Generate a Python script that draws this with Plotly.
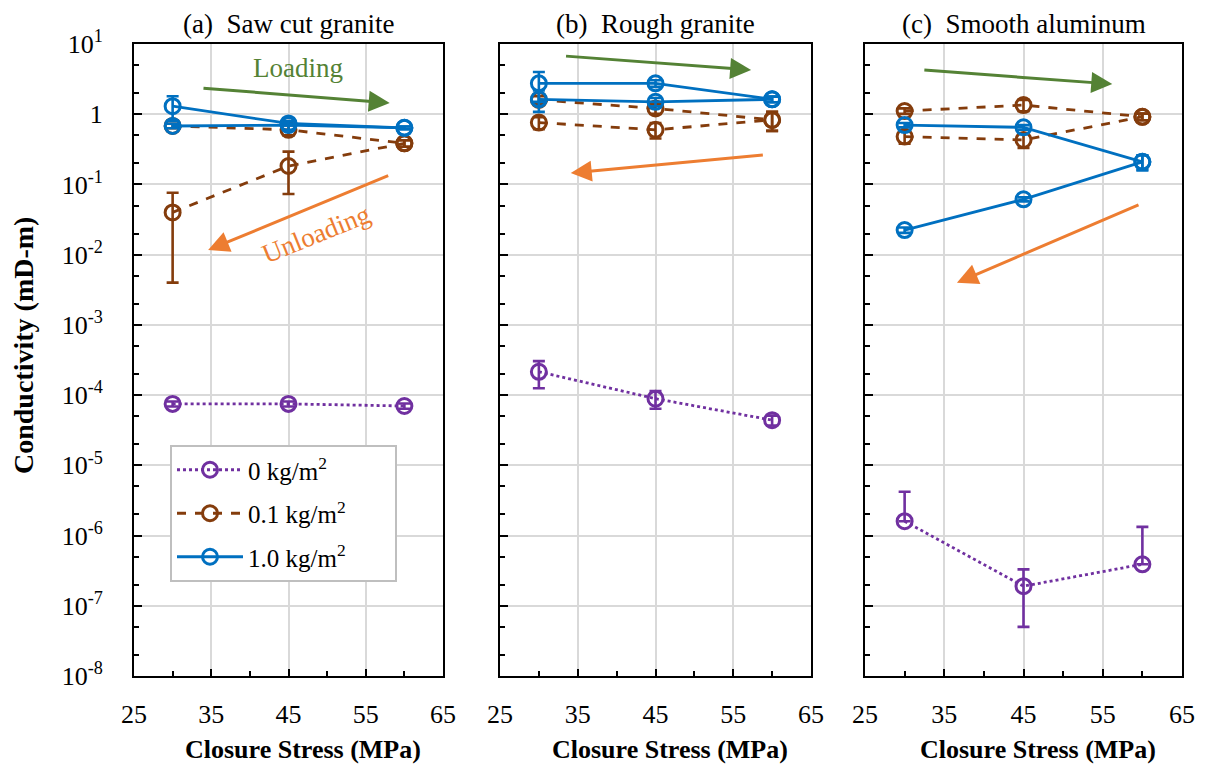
import plotly.graph_objects as go

# ---------------- data ----------------
stress = [30, 45, 60]

# panel (a) saw cut granite
a_p0 = [7.5e-5, 7.5e-5, 7.0e-5]
a_p0_err = [0.6e-5, 0.6e-5, 0.6e-5]
a_p01_load = [0.68, 0.60, 0.385]
a_p01_load_err = [0.05, 0.10, 0.04]
a_p01_unload = [0.040, 0.183, 0.385]
a_p01_unload_err = [0.036, 0.11, 0.04]
a_p10_load = [1.30, 0.74, 0.64]
a_p10_load_err = [0.50, 0.05, 0.03]
a_p10_unload = [0.68, 0.70, 0.64]
a_p10_unload_err = [0.05, 0.10, 0.03]

# panel (b) rough granite
b_p0 = [2.15e-4, 8.9e-5, 4.4e-5]
b_p0_err = [0.9e-4, 2.5e-5, 0.7e-5]
b_p01_load = [1.60, 1.21, 0.83]
b_p01_load_err = [0.20, 0.20, 0.25]
b_p01_unload = [0.76, 0.60, 0.83]
b_p01_unload_err = [0.15, 0.15, 0.25]
b_p10_load = [2.75, 2.75, 1.63]
b_p10_load_err = [1.25, 0.30, 0.15]
b_p10_unload = [1.63, 1.50, 1.63]
b_p10_unload_err = [0.55, 0.20, 0.15]

# panel (c) smooth aluminum
c_p0 = [1.6e-6, 1.9e-7, 3.9e-7]
c_p0_err_plus = [2.6e-6, 1.4e-7, 9.4e-7]
c_p0_err_minus = [0.0, 1.4e-7, 0.0]
c_p01_load = [1.11, 1.35, 0.92]
c_p01_load_err = [0.10, 0.25, 0.10]
c_p01_unload = [0.48, 0.43, 0.92]
c_p01_unload_err = [0.10, 0.10, 0.10]
c_p10_load = [0.70, 0.65, 0.21]
c_p10_load_err = [0.05, 0.05, 0.05]
c_p10_unload = [0.0224, 0.0614, 0.21]
c_p10_unload_err = [0.002, 0.004, 0.05]

panel_titles = ["(a)\u00a0\u00a0Saw cut granite", "(b)\u00a0\u00a0Rough granite", "(c)\u00a0\u00a0Smooth aluminum"]
legend_names = ["0 kg/m<sup>2</sup>", "0.1 kg/m<sup>2</sup>", "1.0 kg/m<sup>2</sup>"]
x_tickvals = [25, 35, 45, 55, 65]
y_tickvals = [10.0 ** k for k in range(1, -9, -1)]
y_ticktext = ["10<sup>1</sup>", "1"] + ["10<sup>-%d</sup>" % k for k in range(1, 9)]

# ---------------- style ----------------
PURPLE = "#7030A0"
BROWN = "#843C0C"
BLUE = "#0070C0"
GREEN = "#548235"
ORANGE = "#ED7D31"
FONT = "'Liberation Serif', 'Times New Roman', 'DejaVu Serif', serif"
PAD = "\u00a0" * 7  # visual padding so the legend box is as wide as the original

fig = go.Figure()


def add(series, err_p, err_m, color, dash, axis_idx, name=None, show=False, group=None):
    xs = "x" if axis_idx == 1 else "x%d" % axis_idx
    ys = "y" if axis_idx == 1 else "y%d" % axis_idx
    fig.add_trace(go.Scatter(
        x=stress, y=series, xaxis=xs, yaxis=ys, mode="lines+markers",
        name=(name + PAD) if name else None, showlegend=show, legendgroup=group,
        line=dict(color=color, width=2.8, dash=dash),
        marker=dict(symbol="circle-open", size=15, color=color, line=dict(width=3, color=color)),
        error_y=dict(type="data", array=err_p, arrayminus=err_m, symmetric=False,
                     color=color, thickness=2.6, width=6),
    ))


panels = [
    (1, a_p0, a_p0_err, a_p0_err,
     [(a_p01_load, a_p01_load_err), (a_p01_unload, a_p01_unload_err)],
     [(a_p10_load, a_p10_load_err), (a_p10_unload, a_p10_unload_err)]),
    (2, b_p0, b_p0_err, b_p0_err,
     [(b_p01_load, b_p01_load_err), (b_p01_unload, b_p01_unload_err)],
     [(b_p10_load, b_p10_load_err), (b_p10_unload, b_p10_unload_err)]),
    (3, c_p0, c_p0_err_plus, c_p0_err_minus,
     [(c_p01_load, c_p01_load_err), (c_p01_unload, c_p01_unload_err)],
     [(c_p10_load, c_p10_load_err), (c_p10_unload, c_p10_unload_err)]),
]

for idx, p0, p0e_p, p0e_m, brown, blue in panels:
    first = idx == 1
    add(p0, p0e_p, p0e_m, PURPLE, "dot", idx, legend_names[0], first, "g0")
    for k, (s, e) in enumerate(brown):
        add(s, e, e, BROWN, "dash", idx, legend_names[1], first and k == 0, "g1")
    for k, (s, e) in enumerate(blue):
        add(s, e, e, BLUE, "solid", idx, legend_names[2], first and k == 0, "g2")

# ---------------- layout ----------------
# page has an 8px body margin, so figure coords = screen coords - 8
W, H = 1194, 756
ML, MR, MT, MB = 126, 20, 36, 88
PW = W - ML - MR
PH = H - MT - MB
panel_px = [(126, 435), (492, 803), (857, 1174)]
domains = [[(l - ML) / PW, (r - ML) / PW] for l, r in panel_px]

axis_common_x = dict(
    range=[25, 65], tickvals=x_tickvals, ticks="inside", ticklen=7, tickwidth=1.5,
    tickcolor="black", showline=True, linecolor="black", linewidth=2, mirror=True,
    showgrid=True, gridcolor="#D9D9D9", gridwidth=2, automargin=False,
    minor=dict(dtick=5, ticks="inside", ticklen=5, tickcolor="black", showgrid=False),
    tickfont=dict(family=FONT, size=26, color="black"), zeroline=False,
    ticklabelstandoff=14,
)
axis_common_y = dict(
    type="log", range=[-8, 1], tickvals=y_tickvals, ticktext=y_ticktext,
    ticks="inside", ticklen=8, tickwidth=1.5, tickcolor="black",
    showline=True, linecolor="black", linewidth=2, mirror=True,
    showgrid=True, gridcolor="#D9D9D9", gridwidth=2, automargin=False,
    minor=dict(ticks="inside", ticklen=5, tickcolor="black", showgrid=False),
    tickfont=dict(family=FONT, size=26, color="black"), zeroline=False,
    ticklabelstandoff=24,
)

lay = dict(
    width=W, height=H, margin=dict(l=ML, r=MR, t=MT, b=MB, autoexpand=False),
    plot_bgcolor="white", paper_bgcolor="white",
    font=dict(family=FONT, size=24, color="black"),
    legend=dict(x=(162 - ML) / PW, y=1 - (437 - MT) / PH, xanchor="left", yanchor="top",
                bordercolor="#BFBFBF", borderwidth=2, bgcolor="white",
                font=dict(family=FONT, size=25, color="black"), tracegroupgap=8,
                itemwidth=66),
)
for i in range(3):
    xk = "xaxis" if i == 0 else "xaxis%d" % (i + 1)
    yk = "yaxis" if i == 0 else "yaxis%d" % (i + 1)
    xa = dict(axis_common_x)
    xa["domain"] = domains[i]
    xa["anchor"] = "y" if i == 0 else "y%d" % (i + 1)
    ya = dict(axis_common_y)
    ya["domain"] = [0, 1]
    ya["anchor"] = "x" if i == 0 else "x%d" % (i + 1)
    ya["showticklabels"] = i == 0
    lay[xk] = xa
    lay[yk] = ya
fig.update_layout(**lay)

ann = []
# panel titles and x titles
for i, t in enumerate(panel_titles):
    cx = sum(domains[i]) / 2
    ann.append(dict(text=t, xref="paper", yref="paper", x=cx, y=1,
                    yshift=20, xanchor="center", yanchor="middle", showarrow=False,
                    font=dict(family=FONT, size=27, color="black")))
    ann.append(dict(text="<b>Closure Stress (MPa)</b>", xref="paper", yref="paper", x=cx, y=0,
                    yshift=-73, xshift=14, xanchor="center", yanchor="middle", showarrow=False,
                    font=dict(family=FONT, size=26, color="black")))
# y title
ann.append(dict(text="<b>Conductivity (mD-m)</b>", xref="paper", yref="paper",
                x=(15 - ML) / PW, y=1 - (338 - MT) / PH, textangle=-90, showarrow=False,
                xanchor="center", yanchor="middle", font=dict(family=FONT, size=28, color="black")))

# loading / unloading arrows (tail -> head, in data units; y as log10)
arrows = [
    (1, GREEN, (33.8, 0.373), (58.1, 0.16)),
    (1, ORANGE, (58.1, -0.866), (34.6, -1.934)),
    (2, GREEN, (33.3, 0.829), (57.3, 0.63)),
    (2, ORANGE, (59.0, -0.58), (34.1, -0.838)),
    (3, GREEN, (32.3, 0.63), (56.2, 0.43)),
    (3, ORANGE, (59.7, -1.28), (36.6, -2.40)),
]
for idx, col, tail, head in arrows:
    xr = "x" if idx == 1 else "x%d" % idx
    yr = "y" if idx == 1 else "y%d" % idx
    ann.append(dict(x=head[0], y=head[1], ax=tail[0], ay=tail[1], xref=xr, yref=yr,
                    axref=xr, ayref=yr, showarrow=True, arrowhead=2, arrowsize=1.4,
                    arrowwidth=3, arrowcolor=col, text=""))
ann.append(dict(text="Loading", x=46.2, y=0.66, xref="x", yref="y", showarrow=False,
                font=dict(family=FONT, size=27, color=GREEN)))
ann.append(dict(text="Unloading", x=48.6, y=-1.70, xref="x", yref="y", showarrow=False,
                textangle=-22, font=dict(family=FONT, size=27, color=ORANGE)))
fig.update_layout(annotations=ann)

fig.write_html("out.html")
